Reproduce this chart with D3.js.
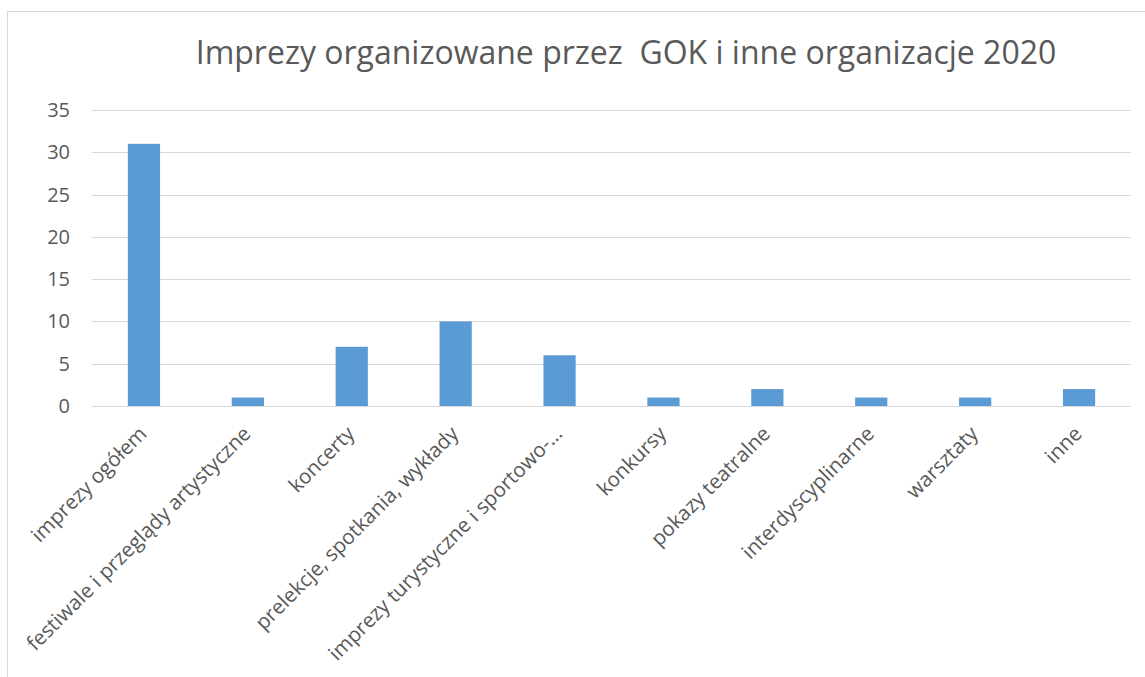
<!DOCTYPE html>
<html lang="pl">
  <head>
    <meta charset="UTF-8"/>
    <title>Imprezy 2020</title>
    <script src="https://d3js.org/d3.v7.min.js"></script>
    <style>
        body {
          margin: 0;
          background: #fff;
          font-family: "Open Sans", sans-serif;
        }
        .grid line {
          stroke: #d9d9d9;
          shape-rendering: crispEdges;
        }
        .axis text {
          fill: #595959;
        }
    </style>
  </head>
  <body>
    <script>
        const title = "Imprezy organizowane przez  GOK i inne organizacje 2020"
        const categories = ["imprezy ogółem", "festiwale i przeglądy artystyczne", "koncerty",
          "prelekcje, spotkania, wykłady", "imprezy turystyczne i sportowo-…", "konkursy",
          "pokazy teatralne", "interdyscyplinarne", "warsztaty", "inne"]
        const values = [31, 1, 7, 10, 6, 1, 2, 1, 1, 2]
        const yTicks = [0, 5, 10, 15, 20, 25, 30, 35]

        const width = 1145, height = 677
        const plot = {left: 92, right: 1131, top: 110, bottom: 406}

        const svg = d3.select("body").append("svg")
            .attr("width", width)
            .attr("height", height)

        // chart border (runs off the right and bottom edges)
        svg.append("rect")
            .attr("x", 7.5).attr("y", 11.5)
            .attr("width", width + 20).attr("height", height + 20)
            .attr("fill", "none")
            .attr("stroke", "#d9d9d9")

        svg.append("text")
            .attr("x", 626).attr("y", 64)
            .attr("text-anchor", "middle")
            .attr("fill", "#595959")
            .style("font-size", "32px")
            .style("white-space", "pre")
            .text(title)

        const x = d3.scaleBand()
            .domain(categories)
            .range([plot.left, plot.right])

        const y = d3.scaleLinear()
            .domain([0, 35])
            .range([plot.bottom, plot.top])

        // gridlines
        svg.append("g")
            .attr("class", "grid")
          .selectAll("line")
          .data(yTicks)
          .join("line")
            .attr("x1", plot.left).attr("x2", plot.right)
            .attr("y1", d => Math.round(y(d)) + 0.5)
            .attr("y2", d => Math.round(y(d)) + 0.5)

        // y axis labels
        svg.append("g")
            .attr("class", "axis")
          .selectAll("text")
          .data(yTicks)
          .join("text")
            .attr("x", 70)
            .attr("y", d => y(d))
            .attr("dy", "0.35em")
            .attr("text-anchor", "end")
            .style("font-size", "20px")
            .text(d => d)

        // bars
        const barW = x.bandwidth() * 0.31
        svg.append("g")
          .selectAll("rect")
          .data(values)
          .join("rect")
            .attr("x", (d, i) => x(categories[i]) + (x.bandwidth() - barW) / 2)
            .attr("y", d => y(d))
            .attr("width", barW)
            .attr("height", d => y(0) - y(d))
            .attr("fill", "#5b9bd5")

        // rotated category labels
        svg.append("g")
            .attr("class", "axis")
          .selectAll("text")
          .data(categories)
          .join("text")
            .attr("transform", d => `translate(${x(d) + x.bandwidth() / 2 - 1}, 430) rotate(-45)`)
            .attr("text-anchor", "end")
            .attr("dy", "0.35em")
            .style("font-size", "20.5px")
            .text(d => d)
    </script>
  </body>
</html>
